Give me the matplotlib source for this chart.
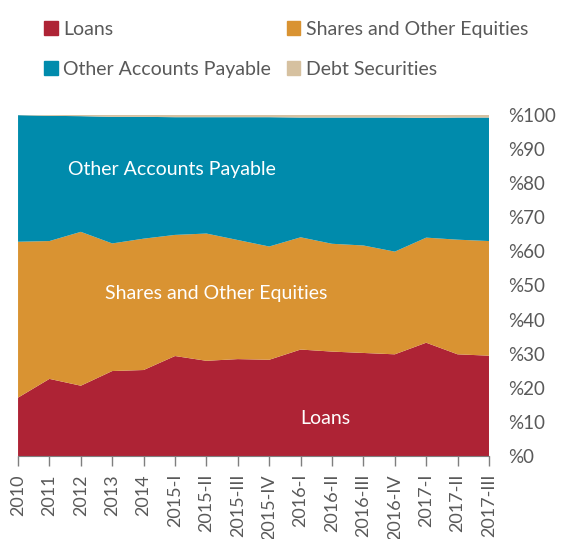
import matplotlib.pyplot as plt
import matplotlib.patches as mpatches
import numpy as np

periods = ["2010", "2011", "2012", "2013", "2014", "2015-I", "2015-II", "2015-III",
           "2015-IV", "2016-I", "2016-II", "2016-III", "2016-IV", "2017-I", "2017-II", "2017-III"]
loans = [17.1, 22.6, 20.6, 24.9, 25.2, 29.3, 27.9, 28.4, 28.2, 31.2, 30.6, 30.2, 29.8, 33.2, 29.8, 29.4]
shares_top = [62.8, 63.0, 65.7, 62.3, 63.7, 64.8, 65.2, 63.3, 61.4, 64.1, 62.2, 61.7, 59.9, 64.0, 63.4, 63.0]
debt = [0.1, 0.3, 0.4, 0.6, 0.6, 0.7, 0.7, 0.7, 0.7, 0.8, 0.8, 0.8, 0.8, 0.9, 0.8, 0.8]

shares = [s - l for s, l in zip(shares_top, loans)]
other = [100 - s - d for s, d in zip(shares_top, debt)]

colors = {"Loans": "#AE2335", "Shares and Other Equities": "#D99332",
          "Other Accounts Payable": "#008BAC", "Debt Securities": "#D6C1A0"}

plt.rcParams['font.family'] = ['Lato', 'DejaVu Sans']
grey = "#595959"

fig = plt.figure(figsize=(5.64, 5.39), dpi=100)
ax = fig.add_axes([0.032, 0.154, 0.835, 0.633])
x = np.arange(len(periods))
ax.stackplot(x, loans, shares, other, debt,
             colors=[colors["Loans"], colors["Shares and Other Equities"],
                     colors["Other Accounts Payable"], colors["Debt Securities"]],
             linewidth=0)
ax.set_xlim(0, len(periods) - 1)
ax.set_ylim(0, 100)

ax.yaxis.tick_right()
ax.set_yticks(range(0, 101, 10))
ax.set_yticklabels(["%" + str(v) for v in range(0, 101, 10)], fontsize=13.5, color=grey)
ax.tick_params(axis='y', length=0, pad=14)
ax.set_xticks(x)
ax.set_xticklabels(periods, rotation=90, fontsize=13, color=grey)
ax.tick_params(axis='x', length=7, color="#7f7f7f", width=1, pad=6)
for side in ["top", "left", "right"]:
    ax.spines[side].set_visible(False)
ax.spines["bottom"].set_color("#7f7f7f")

ax.text(4.9, 84, "Other Accounts Payable", color="white", fontsize=14, ha="center", va="center")
ax.text(6.3, 47.5, "Shares and Other Equities", color="white", fontsize=14, ha="center", va="center")
ax.text(9.8, 11, "Loans", color="white", fontsize=14, ha="center", va="center")

# column-wise fill: col 1 = Loans, Other; col 2 = Shares, Debt
order = ["Loans", "Other Accounts Payable", "Shares and Other Equities", "Debt Securities"]
handles = [mpatches.Patch(color=colors[k], label=k) for k in order]
fig.legend(handles=handles, loc="upper left", bbox_to_anchor=(0.047, 0.994), ncol=2,
           frameon=False, fontsize=14, labelcolor=grey, handlelength=0.7, handleheight=0.7,
           handletextpad=0.3, columnspacing=0.8, labelspacing=1.2)

fig.savefig("out.png", dpi=100)
